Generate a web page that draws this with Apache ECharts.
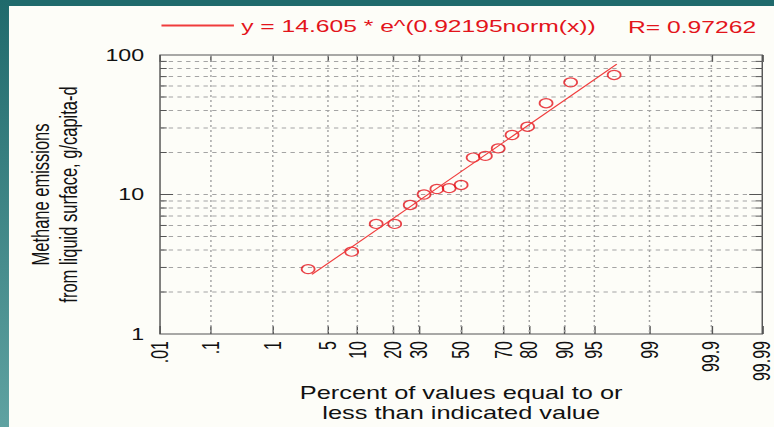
<!DOCTYPE html>
<html>
<head>
<meta charset="utf-8">
<script src="https://cdn.jsdelivr.net/npm/echarts@6/dist/echarts.min.js"></script>
<style>
  html, body { margin: 0; padding: 0; background: #fdfdf8; overflow: hidden; }
  /* the source picture is stretched sideways, so draw narrow and stretch */
  #main { width: 534px; height: 427px; transform: scaleX(1.44944); transform-origin: 0 0; }
</style>
</head>
<body>
<div id="main"></div>
<script>
// plotting positions (% of values <= value) and measured emissions
const pctValues = [2.94, 8.82, 14.71, 20.59, 26.47, 32.35, 38.24, 44.12, 50.00,
                   55.88, 61.76, 67.65, 73.53, 79.41, 85.29, 91.18, 97.06];
const emissions = [2.92, 3.89, 6.15, 6.15, 8.41, 10.0, 10.95, 11.1, 11.7,
                   18.4, 18.9, 21.4, 26.7, 30.6, 45.1, 63.7, 71.9];

const tickPcts   = [0.01, 0.1, 1, 5, 10, 20, 30, 50, 70, 80, 90, 95, 99, 99.9, 99.99];
const tickLabels = ['.01', '.1', '1', '5', '10', '20', '30', '50', '70', '80', '90', '95', '99', '99.9', '99.99'];
const yGridValues = [2, 3, 4, 5, 6, 7, 8, 9, 10, 20, 30, 40, 50, 60, 70, 80, 90];
const yMajor = [10];

const fitA = 14.605, fitB = 0.92195, fitR = 0.97262;
const fitRangePct = [3.27, 97.27];
const fitLabel = 'y = 14.605 * e^(0.92195norm(x))';

const red = '#e3141b';
const gridGrey = '#a4a4a4';
const axisGrey = '#555';
const font = '"Liberation Sans", Arial, sans-serif';

// inverse normal cdf: the probability axis is laid out in z units
function probit(p) {
  const a = [-3.969683028665376e+01, 2.209460984245205e+02, -2.759285104469687e+02,
             1.383577518672690e+02, -3.066479806614716e+01, 2.506628277459239e+00];
  const b = [-5.447609879822406e+01, 1.615858368580409e+02, -1.556989798598866e+02,
             6.680131188771972e+01, -1.328068155288572e+01];
  const c = [-7.784894002430293e-03, -3.223964580411365e-01, -2.400758277161838e+00,
             -2.549732539343734e+00, 4.374664141464968e+00, 2.938163982698783e+00];
  const d = [7.784695709041462e-03, 3.224671290700398e-01, 2.445134137142996e+00,
             3.754408661907416e+00];
  const plow = 0.02425;
  let q, r;
  if (p < plow) {
    q = Math.sqrt(-2 * Math.log(p));
    return (((((c[0]*q+c[1])*q+c[2])*q+c[3])*q+c[4])*q+c[5]) /
           ((((d[0]*q+d[1])*q+d[2])*q+d[3])*q+1);
  }
  if (p > 1 - plow) {
    q = Math.sqrt(-2 * Math.log(1 - p));
    return -(((((c[0]*q+c[1])*q+c[2])*q+c[3])*q+c[4])*q+c[5]) /
            ((((d[0]*q+d[1])*q+d[2])*q+d[3])*q+1);
  }
  q = p - 0.5; r = q * q;
  return (((((a[0]*r+a[1])*r+a[2])*r+a[3])*r+a[4])*r+a[5])*q /
         (((((b[0]*r+b[1])*r+b[2])*r+b[3])*r+b[4])*r+1);
}
const z = pct => probit(pct / 100);

const zTicks = tickPcts.map(z);
const zMin = zTicks[0], zMax = zTicks[zTicks.length - 1];
const innerTicks = zTicks.slice(1, -1);

const points = pctValues.map((p, i) => [z(p), emissions[i]]);
const fitLine = fitRangePct.map(p => [z(p), fitA * Math.exp(fitB * z(p))]);

function tickText(v) {
  for (let i = 0; i < zTicks.length; i++) {
    if (Math.abs(zTicks[i] - v) < 1e-6) return tickLabels[i];
  }
  return '';
}

const chart = echarts.init(document.getElementById('main'), null, {renderer: 'svg'});

chart.setOption({
  backgroundColor: '#fdfdf8',
  animation: false,
  textStyle: {fontFamily: font},
  grid: {
    left: 110.4, right: 8.1, top: 55, bottom: 93,
    show: true, borderColor: axisGrey, borderWidth: 1,
    outerBoundsMode: 'none'
  },
  legend: {
    left: 110.4, top: 17, padding: 0,
    itemWidth: 50, itemHeight: 14,
    data: [fitLabel],
    itemStyle: {opacity: 0},
    textStyle: {color: red, fontSize: 17, fontFamily: font}
  },
  graphic: [
    {type: 'rect', z: -10, shape: {x: 0, y: 0, width: 534, height: 6}, style: {fill: '#1f6a6c'}},
    {type: 'rect', z: -10, shape: {x: 0, y: 0, width: 6.2, height: 427},
     style: {fill: new echarts.graphic.LinearGradient(0, 0, 0, 1, [
       {offset: 0, color: '#1f6a6c'}, {offset: 1, color: '#5fa2a1'}])}},
    {type: 'text', x: 433.3, y: 26.5,
     style: {text: 'R= ' + fitR, fill: red, font: '17px ' + font, verticalAlign: 'middle'}}
  ],
  xAxis: [{
    type: 'value', position: 'bottom', min: zMin, max: zMax,
    axisLine: {show: false},
    axisTick: {inside: true, length: 8, customValues: zTicks, lineStyle: {color: axisGrey}},
    axisLabel: {customValues: zTicks, rotate: 90, margin: 7, fontSize: 16, color: '#111',
                formatter: tickText},
    splitLine: {show: false},
    name: 'Percent of values equal to or\nless than indicated value',
    nameLocation: 'middle', nameGap: 49, nameMoveOverlap: false,
    nameTextStyle: {fontSize: 17.5, lineHeight: 20, color: '#111'}
  }, {
    type: 'value', position: 'top', min: zMin, max: zMax,
    axisLine: {show: false},
    axisTick: {inside: true, length: 7, customValues: zTicks, lineStyle: {color: axisGrey}},
    axisLabel: {show: false},
    splitLine: {show: false}
  }],
  yAxis: {
    type: 'log', logBase: 10, min: 1, max: 100,
    axisLine: {show: false},
    axisTick: {show: false},
    axisLabel: {fontSize: 16, margin: 11, color: '#111'},
    splitLine: {show: false},
    name: 'Methane emissions\nfrom liquid surface, g/capita-d',
    nameLocation: 'middle', nameRotate: 90, nameGap: 54, nameMoveOverlap: false,
    nameTextStyle: {fontSize: 16.5, lineHeight: 19, color: '#111'}
  },
  series: [{
    name: 'vgrid', type: 'custom', silent: true, z: 1,
    data: innerTicks.map(v => [v, 1]),
    encode: {x: 0, y: 1},
    renderItem: (params, api) => {
      const cs = params.coordSys;
      const x = api.coord([api.value(0), 1])[0];
      return {type: 'line', shape: {x1: x, y1: cs.y, x2: x, y2: cs.y + cs.height},
              style: {stroke: gridGrey, lineWidth: 1, lineDash: [2, 3]}};
    }
  }, {
    name: 'hgrid', type: 'custom', silent: true, z: 1,
    data: yGridValues.map(v => [zMin, v]),
    encode: {x: 0, y: 1},
    renderItem: (params, api) => {
      const cs = params.coordSys;
      const v = api.value(1);
      const y = api.coord([zMin, v])[1];
      const len = yMajor.indexOf(v) >= 0 ? 9 : 4.6;
      return {type: 'group', children: [
        {type: 'line', shape: {x1: cs.x, y1: y, x2: cs.x + cs.width, y2: y},
         style: {stroke: gridGrey, lineWidth: 1, lineDash: [3, 3]}},
        {type: 'line', shape: {x1: cs.x, y1: y, x2: cs.x + len, y2: y},
         style: {stroke: axisGrey, lineWidth: 1}},
        {type: 'line', shape: {x1: cs.x + cs.width - len, y1: y, x2: cs.x + cs.width, y2: y},
         style: {stroke: axisGrey, lineWidth: 1}}
      ]};
    }
  }, {
    name: 'data', type: 'scatter', z: 3,
    data: points,
    symbol: 'circle', symbolSize: 9,
    itemStyle: {color: 'rgba(0,0,0,0)', borderColor: red, borderWidth: 1.2}
  }, {
    name: fitLabel, type: 'line', z: 4,
    data: fitLine,
    symbol: 'none',
    lineStyle: {color: '#f03c3c', width: 1}
  }]
});
</script>
</body>
</html>
